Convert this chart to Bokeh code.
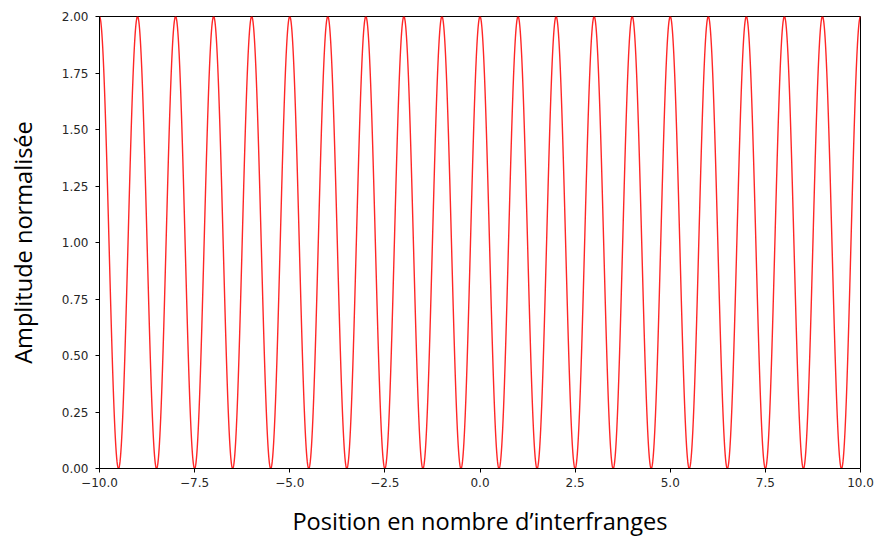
import numpy as np
from bokeh.plotting import figure
from bokeh.models import FixedTicker, Range1d
from bokeh.embed import file_html
from bokeh.resources import INLINE

# Values
x_ticks = [-10.0, -7.5, -5.0, -2.5, 0.0, 2.5, 5.0, 7.5, 10.0]
x_tick_labels = ["\u221210.0", "\u22127.5", "\u22125.0", "\u22122.5", "0.0", "2.5", "5.0", "7.5", "10.0"]
y_ticks = [0.0, 0.25, 0.5, 0.75, 1.0, 1.25, 1.5, 1.75, 2.0]
y_tick_labels = ["0.00", "0.25", "0.50", "0.75", "1.00", "1.25", "1.50", "1.75", "2.00"]

# Two-wave interference fringes: maxima (2.0) at integer positions, minima (0.0) halfway
fringe_period = 1.0
amp_max = 2.0
amp_min = 0.0
x_start, x_end = -10.0, 10.0

x = np.linspace(x_start, x_end, 4001)
y = (amp_max + amp_min) / 2 + (amp_max - amp_min) / 2 * np.cos(2 * np.pi * x / fringe_period)

p = figure(width=876, height=539, output_backend="svg", toolbar_location=None,
           x_range=Range1d(x_start, x_end), y_range=Range1d(amp_min, amp_max),
           min_border_left=99, min_border_right=16, min_border_top=16, min_border_bottom=70)

p.line(x, y, line_color="red", line_alpha=0.85, line_width=1.4)

p.xgrid.visible = False
p.ygrid.visible = False
p.outline_line_color = "black"
p.outline_line_width = 1
p.outline_line_alpha = 1.0
p.background_fill_color = "white"
p.border_fill_color = "white"

p.xaxis.ticker = FixedTicker(ticks=x_ticks)
p.xaxis.major_label_overrides = {t: l for t, l in zip(x_ticks, x_tick_labels)}
p.yaxis.ticker = FixedTicker(ticks=y_ticks)
p.yaxis.major_label_overrides = {t: l for t, l in zip(y_ticks, y_tick_labels)}

for ax in (p.xaxis, p.yaxis):
    ax.axis_line_color = "black"
    ax.major_tick_line_color = "black"
    ax.major_tick_out = 4
    ax.major_tick_in = 0
    ax.minor_tick_line_color = None
    ax.major_label_text_font = "DejaVu Sans"
    ax.major_label_text_font_size = "12px"
    ax.major_label_text_color = "#262626"
    ax.axis_label_text_font = "Open Sans"
    ax.axis_label_text_font_size = "23.6px"
    ax.axis_label_text_font_style = "normal"
    ax.axis_label_text_color = "black"

p.xaxis.axis_label = "Position en nombre d\u2019interfranges"
p.yaxis.axis_label = "Amplitude normalis\u00e9e"
p.xaxis.major_label_standoff = 5
p.yaxis.major_label_standoff = 7
p.xaxis.axis_label_standoff = 15
p.yaxis.axis_label_standoff = 20

open("out.html", "w").write(file_html(p, INLINE))
